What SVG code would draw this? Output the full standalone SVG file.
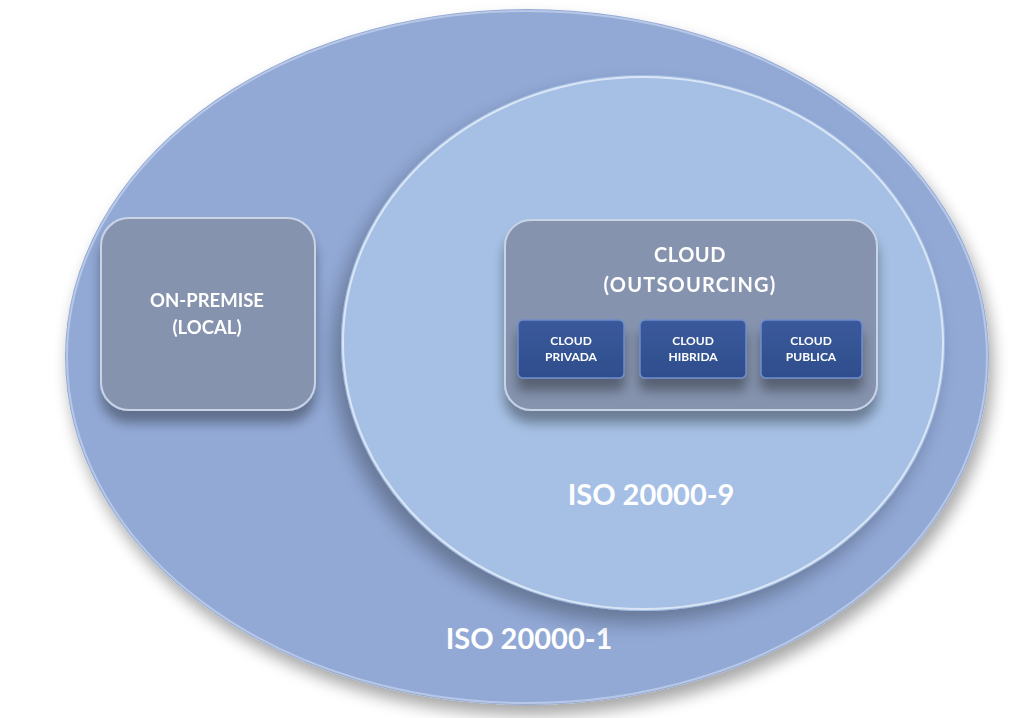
<svg xmlns="http://www.w3.org/2000/svg" width="1024" height="718" viewBox="0 0 1024 718">
<defs>
<filter id="sh" x="-20%" y="-20%" width="140%" height="150%"><feGaussianBlur in="SourceAlpha" stdDeviation="8"/><feOffset dx="4" dy="10"/><feComponentTransfer><feFuncA type="linear" slope="0.35"/></feComponentTransfer><feMerge><feMergeNode/><feMergeNode in="SourceGraphic"/></feMerge></filter>
<filter id="sh2" x="-20%" y="-20%" width="140%" height="150%"><feGaussianBlur in="SourceAlpha" stdDeviation="10"/><feOffset dx="-8" dy="12"/><feComponentTransfer><feFuncA type="linear" slope="0.3"/></feComponentTransfer><feMerge><feMergeNode/><feMergeNode in="SourceGraphic"/></feMerge></filter>
<filter id="shs" x="-20%" y="-20%" width="140%" height="160%"><feGaussianBlur in="SourceAlpha" stdDeviation="6"/><feOffset dx="0" dy="12"/><feComponentTransfer><feFuncA type="linear" slope="0.35"/></feComponentTransfer><feMerge><feMergeNode/><feMergeNode in="SourceGraphic"/></feMerge></filter>
<linearGradient id="gb" x1="0" y1="0" x2="0" y2="1"><stop offset="0" stop-color="#3a5a9c"/><stop offset="1" stop-color="#2f4d8c"/></linearGradient>
</defs>
<style>
.t{font-family:Lato,"Open Sans","Liberation Sans",sans-serif;font-weight:bold;fill:#ffffff;text-anchor:middle}
.box{fill:#8593ae;stroke:#c9d3e6;stroke-width:2}
.sub{fill:url(#gb);stroke:#6f8ccc;stroke-width:1.5}
</style>
<rect width="1024" height="718" fill="#ffffff"/>
<g id="iso1">
<ellipse cx="527" cy="357" rx="462" ry="348" fill="#92a9d6" filter="url(#sh)"/>
<ellipse cx="527" cy="357" rx="460" ry="346" fill="none" stroke="#b7c7e6" stroke-width="2"/>
<text class="t" x="529" y="649" font-size="29">ISO 20000-1</text>
</g>
<g id="iso9">
<ellipse cx="643" cy="343" rx="302" ry="268" fill="#a5c0e4" filter="url(#sh2)"/>
<ellipse cx="643" cy="343" rx="300" ry="266" fill="none" stroke="#dbe6f5" stroke-width="2"/>
<text class="t" x="651" y="505" font-size="29">ISO 20000-9</text>
</g>
<g id="onpremise" filter="url(#shs)">
<rect class="box" x="101" y="218" width="214" height="192" rx="28"/>
<text class="t" x="207" y="307" font-size="18.5">ON-PREMISE</text>
<text class="t" x="207" y="334" font-size="18.5">(LOCAL)</text>
</g>
<g id="cloud" filter="url(#shs)">
<rect class="box" x="505" y="220" width="372" height="190" rx="26"/>
<text class="t" x="690" y="262" font-size="20" letter-spacing="0.5">CLOUD</text>
<text class="t" x="690" y="292" font-size="20" letter-spacing="1.2">(OUTSOURCING)</text>
</g>
<g id="privada" filter="url(#shs)">
<rect class="sub" x="518" y="320" width="106" height="58" rx="5"/>
<text class="t" x="571" y="345" font-size="12">CLOUD</text>
<text class="t" x="571" y="361" font-size="12">PRIVADA</text>
</g>
<g id="hibrida" filter="url(#shs)">
<rect class="sub" x="640" y="320" width="106" height="58" rx="5"/>
<text class="t" x="693" y="345" font-size="12">CLOUD</text>
<text class="t" x="693" y="361" font-size="12">HIBRIDA</text>
</g>
<g id="publica" filter="url(#shs)">
<rect class="sub" x="761" y="320" width="101" height="58" rx="5"/>
<text class="t" x="811" y="345" font-size="12">CLOUD</text>
<text class="t" x="811" y="361" font-size="12">PUBLICA</text>
</g>
<g id="connectors"/>
</svg>
